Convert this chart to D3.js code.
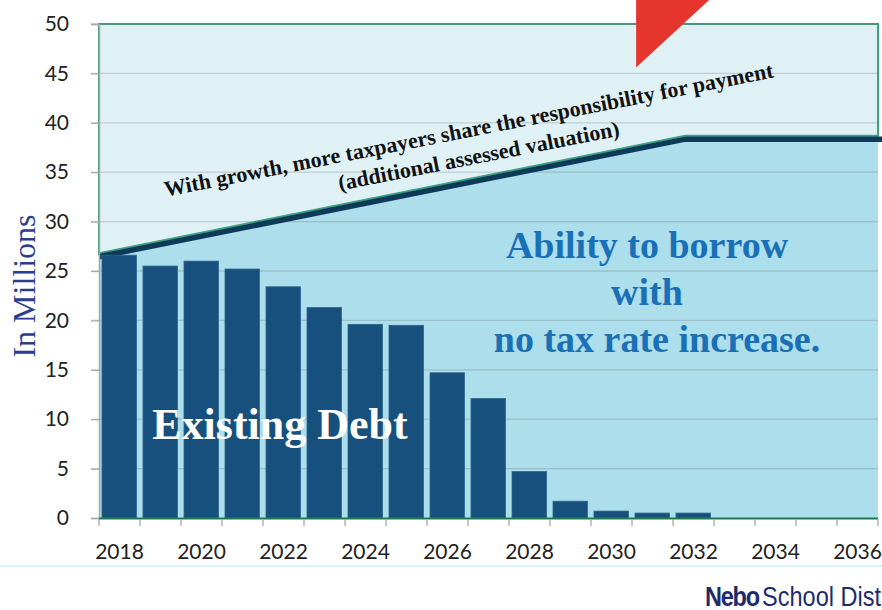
<!DOCTYPE html>
<html><head><meta charset="utf-8">
<script src="https://cdn.jsdelivr.net/npm/d3@7"></script>
<style>
html,body{margin:0;padding:0;background:#fff;overflow:hidden}
svg{display:block}
</style></head>
<body>
<svg id="chart" width="882" height="610"></svg>
<script>
// ---------- data ----------
const years = [2018,2019,2020,2021,2022,2023,2024,2025,2026,2027,2028,2029,2030,2031,2032,2033,2034,2035,2036];
const existingDebt = [26.6,25.5,26.0,25.2,23.4,21.3,19.6,19.5,14.7,12.1,4.7,1.7,0.7,0.5,0.5,0,0,0,0];
const yTicks = [0,5,10,15,20,25,30,35,40,45,50];
const xTickLabels = [2018,2020,2022,2024,2026,2028,2030,2032,2034,2036];
// borrowing capacity (with growth): [year position, millions]
const capacityYears = [2017.5, 2031.8, 2036.5];
const capacityValues = [26.8, 38.7, 38.7];
// red arrow tip (decorative, in year / millions units)
const arrowYears = [2030.6, 2032.4, 2030.6];
const arrowValues = [52.5, 52.5, 45.6];

(function(){
// ---------- scales ----------
const svg = d3.select("#chart");
const mLeft = 99, mRight = 878, mTop = 24, mBottom = 518;
const x = d3.scaleBand().domain(years).range([mLeft, mRight]).padding(0);
const xLin = d3.scaleLinear().domain([2017.5, 2036.5]).range([mLeft, mRight]);
const y = d3.scaleLinear().domain([0, 50]).range([mBottom, mTop]);

const cap = capacityYears.map((yr, i) => [yr, capacityValues[i]]);

// blue "ability to borrow" area
const areaGen = d3.area().x(d => xLin(d[0])).y0(y(0)).y1(d => y(d[1]));
svg.append("path").datum(cap).attr("d", areaGen).attr("fill", "#acdeeb");

// pale upper region with green border
const upperPoly = [[2017.5,50]].concat(cap).concat([[2036.5,50]]);
svg.append("path")
  .attr("d", d3.line().x(d => xLin(d[0])).y(d => y(d[1]))(upperPoly) + "Z")
  .attr("fill", "#e0f1f6")
  .attr("stroke", "#3ba37f").attr("stroke-width", 2);

// gridlines
svg.append("g").selectAll("line").data(yTicks.filter(t => t > 0)).join("line")
  .attr("x1", 91).attr("x2", mRight)
  .attr("y1", d => y(d)).attr("y2", d => y(d))
  .attr("stroke", "rgba(110,110,110,0.28)").attr("stroke-width", 1.3);

// navy capacity line
svg.append("path").datum(cap.map((d,i) => i === cap.length-1 ? [d[0]+0.2, d[1]] : d))
  .attr("d", d3.line().x(d => xLin(d[0])).y(d => y(d[1]) + 3.5))
  .attr("fill", "none").attr("stroke", "#0e3a5a").attr("stroke-width", 5.5);

// red arrow tip
const arrowPts = arrowYears.map((yr,i) => [xLin(yr), y(arrowValues[i])]);
svg.append("path").attr("d", d3.line()(arrowPts) + "Z").attr("fill", "#e5352c");

// bars
svg.append("g").selectAll("rect").data(years.map((yr,i) => ({yr, v: existingDebt[i]})).filter(d => d.v > 0)).join("rect")
  .attr("x", d => x(d.yr) + 3)
  .attr("width", x.bandwidth() - 6.5)
  .attr("y", d => y(d.v))
  .attr("height", d => y(0) - y(d.v))
  .attr("fill", "#18507d")
  .attr("stroke", "#2a6690").attr("stroke-width", 0.8);

// axes
const yAxisG = svg.append("g").attr("transform", `translate(${mLeft},0)`)
  .call(d3.axisLeft(y).tickValues(yTicks).tickSize(8).tickPadding(22));
yAxisG.select(".domain").attr("stroke", "#a8a8a8").attr("stroke-width", 1.5);
yAxisG.selectAll(".tick line").attr("stroke", "#a8a8a8").attr("stroke-width", 1.3);
yAxisG.selectAll(".tick text").attr("font-family", "Lato, 'Open Sans', sans-serif")
  .attr("font-size", 21).attr("fill", "#222");

svg.append("line").attr("x1", mLeft).attr("x2", mRight).attr("y1", mBottom+0.5).attr("y2", mBottom+0.5)
  .attr("stroke", "#1f7a50").attr("stroke-width", 2);
// tick marks at band boundaries
svg.append("g").selectAll("line").data(years.concat([2037])).join("line")
  .attr("x1", (d,i) => mLeft + i * x.step()).attr("x2", (d,i) => mLeft + i * x.step())
  .attr("y1", mBottom + 1).attr("y2", mBottom + 8)
  .attr("stroke", "#a8a8a8").attr("stroke-width", 1.3);
svg.append("g").selectAll("text").data(xTickLabels).join("text")
  .attr("x", d => x(d) + x.bandwidth()/2)
  .attr("y", 550)
  .attr("text-anchor", "middle").attr("dominant-baseline", "central")
  .attr("font-family", "Lato, 'Open Sans', sans-serif").attr("font-size", 21).attr("fill", "#222")
  .text(d => d);

// y title
svg.append("text")
  .attr("transform", "translate(35,286) rotate(-90)")
  .attr("text-anchor", "middle")
  .attr("font-family", "'Liberation Serif', 'Times New Roman', serif")
  .attr("font-size", 32).attr("fill", "#2b3d8f")
  .text("In Millions");

// Existing Debt label
svg.append("text").attr("x", 280).attr("y", 439)
  .attr("text-anchor", "middle")
  .attr("font-family", "'Liberation Serif', 'Times New Roman', serif")
  .attr("font-weight", "bold").attr("font-size", 44).attr("fill", "#fff")
  .text("Existing Debt");

// Ability label
const abilityLines = ["Ability to borrow", "with", "no tax rate increase."];
const abilityY = [258, 305, 352];
svg.append("g").selectAll("text").data(abilityLines).join("text")
  .attr("x", (d,i) => i === 2 ? 657 : 647).attr("y", (d,i) => abilityY[i])
  .attr("text-anchor", "middle")
  .attr("font-family", "'Liberation Serif', 'Times New Roman', serif")
  .attr("font-weight", "bold").attr("font-size", 38).attr("fill", "#1a70b6")
  .text(d => d);

// rotated growth text
const growthLines = ["With growth, more taxpayers share the responsibility for payment", "(additional assessed valuation)"];
const gg = svg.append("g").attr("transform", "translate(470,137) rotate(-11.1)");
gg.selectAll("text").data(growthLines).join("text")
  .attr("x", (d,i) => i === 0 ? 0 : 5).attr("y", (d,i) => i * 27.5)
  .attr("text-anchor", "middle")
  .attr("font-family", "'Liberation Serif', 'Times New Roman', serif")
  .attr("font-weight", "bold").attr("font-size", 22).attr("fill", "#111")
  .text(d => d);

// slide footer
svg.append("line").attr("x1", 0).attr("x2", 882).attr("y1", 566).attr("y2", 566)
  .attr("stroke", "#dcf0f8").attr("stroke-width", 2);
const logo = svg.append("text").attr("transform", "translate(705,606) scale(0.84,1)")
  .attr("font-size", 28).attr("fill", "#1d2b6c");
logo.append("tspan").attr("font-family", "'Liberation Sans', Arial, sans-serif").attr("font-weight", "bold")
  .attr("letter-spacing", -1.5).text("Nebo");
logo.append("tspan").attr("font-family", "'Liberation Sans', Arial, sans-serif")
  .attr("dx", 4).text("School District");
})();
</script>
</body></html>
